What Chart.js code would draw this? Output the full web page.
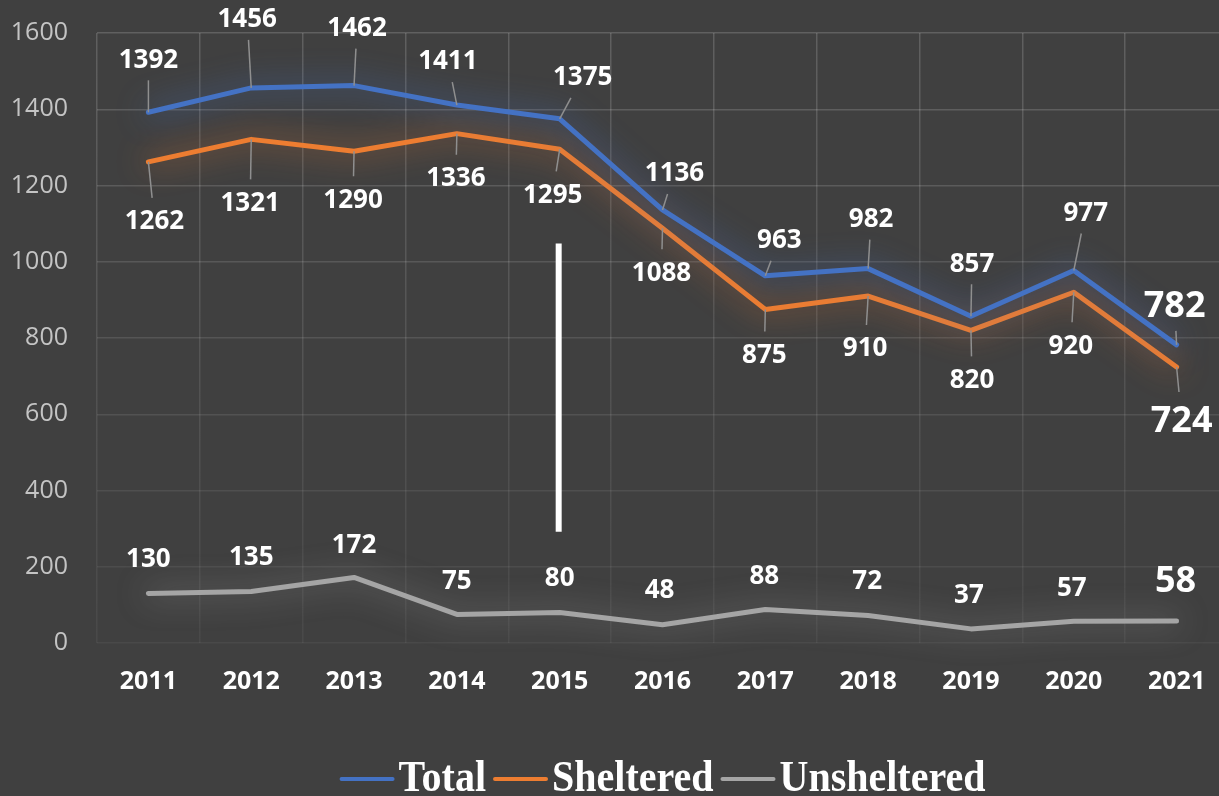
<!DOCTYPE html>
<html>
<head>
<meta charset="utf-8">
<script src="https://cdn.jsdelivr.net/npm/chart.js@4.4.1/dist/chart.umd.min.js"></script>
<style>
  html, body { margin: 0; padding: 0; background: #404040; overflow: hidden; }
  #wrap { width: 1240px; height: 796px; position: relative; }
</style>
</head>
<body>
<div id="wrap"><canvas id="homelessChart"></canvas></div>
<script>
const years = ['2011', '2012', '2013', '2014', '2015', '2016', '2017', '2018', '2019', '2020', '2021'];
const total = [1392, 1456, 1462, 1411, 1375, 1136, 963, 982, 857, 977, 782];
const sheltered = [1262, 1321, 1290, 1336, 1295, 1088, 875, 910, 820, 920, 724];
const unsheltered = [130, 135, 172, 75, 80, 48, 88, 72, 37, 57, 58];
const yTicks = [0, 200, 400, 600, 800, 1000, 1200, 1400, 1600];

// white marker line at 2015
const markerYear = '2015';
const markerFrom = 292;
const markerTo = 1048;

// data label placement, px offset of label centre from its point
const totalLabelOffsets = [[0, -54], [-4, -70], [3, -59], [-9, -45], [23, -43], [12, -38], [14, -37], [3, -51], [1, -54], [12, -59], [-2, -41]];
const shelteredLabelOffsets = [[6, 58], [-1, 62], [-1, 47], [-1, 43], [-7, 44], [-1, 43], [-1, 44], [-3, 51], [1, 48], [-3, 52], [5, 52]];
const unshelteredLabelOffsets = [[0, -36], [0, -36], [0, -34], [0, -35], [0, -36], [-3, -36], [-1, -35], [-1, -36], [-2, -35], [-2, -35], [-1, -42]];

const FONT = '"Open Sans", "Noto Sans", sans-serif';

// soft glow under each line
const glowPlugin = {
    id: 'glow',
    beforeDatasetDraw(chart, args) {
        const ds = chart.data.datasets[args.index];
        chart.ctx.save();
        chart.ctx.shadowColor = ds.glowColor;
        chart.ctx.shadowBlur = 30;
    },
    afterDatasetDraw(chart) {
        chart.ctx.restore();
    }
};

const markerPlugin = {
    id: 'marker',
    beforeDatasetsDraw(chart) {
        const { ctx, scales } = chart;
        const x = scales.x.getPixelForValue(years.indexOf(markerYear));
        ctx.save();
        ctx.strokeStyle = '#ffffff';
        ctx.lineWidth = 6;
        ctx.beginPath();
        ctx.moveTo(x - 1, scales.y.getPixelForValue(markerTo));
        ctx.lineTo(x - 1, scales.y.getPixelForValue(markerFrom));
        ctx.stroke();
        ctx.restore();
    }
};

const labelPlugin = {
    id: 'pointLabels',
    afterDatasetsDraw(chart) {
        const ctx = chart.ctx;
        ctx.save();
        chart.data.datasets.forEach((ds, di) => {
            const meta = chart.getDatasetMeta(di);
            meta.data.forEach((pt, i) => {
                const big = i === ds.data.length - 1;
                const size = big ? 36 : 26;
                ctx.font = 'bold ' + size + 'px ' + FONT;
                const text = String(ds.data[i]);
                const lx = pt.x + ds.labelOffsets[i][0];
                const ly = pt.y + ds.labelOffsets[i][1];
                if (ds.leaders) {
                    const hw = ctx.measureText(text).width / 2 + 3;
                    const hh = big ? 27 : 22;
                    const vx = pt.x - lx, vy = pt.y - ly;
                    const t = Math.min(vx ? hw / Math.abs(vx) : Infinity, vy ? hh / Math.abs(vy) : Infinity);
                    if (t < 1) {
                        ctx.strokeStyle = '#8f8f8f';
                        ctx.lineWidth = 1.5;
                        ctx.beginPath();
                        ctx.moveTo(lx + vx * t, ly + vy * t);
                        ctx.lineTo(pt.x, pt.y);
                        ctx.stroke();
                    }
                }
                ctx.fillStyle = '#ffffff';
                ctx.textAlign = 'center';
                ctx.textBaseline = 'alphabetic';
                ctx.fillText(text, lx, ly + size * 0.36);
            });
        });
        ctx.restore();
    }
};

const legendPlugin = {
    id: 'lineLegend',
    afterDraw(chart) {
        const { ctx, chartArea } = chart;
        const lineLen = 55, gap = 4, itemGap = 7;
        ctx.save();
        ctx.font = 'bold 40px "Liberation Serif", "Times New Roman", serif';
        const items = chart.data.datasets.map(ds => ({ text: ds.label, color: ds.borderColor, w: ctx.measureText(ds.label).width }));
        const width = items.reduce((s, it) => s + lineLen + gap + it.w, 0) + itemGap * (items.length - 1);
        let x = (chartArea.left + chartArea.right) / 2 - width / 2;
        const baseY = 791, lineY = 779;
        items.forEach(it => {
            ctx.strokeStyle = it.color;
            ctx.lineWidth = 4;
            ctx.lineCap = 'round';
            ctx.beginPath();
            ctx.moveTo(x + 2, lineY);
            ctx.lineTo(x + lineLen - 2, lineY);
            ctx.stroke();
            x += lineLen + gap;
            ctx.save();
            ctx.translate(x, baseY);
            ctx.scale(1, 1.1);
            ctx.fillStyle = '#ffffff';
            ctx.textBaseline = 'alphabetic';
            ctx.fillText(it.text, 0, 0);
            ctx.restore();
            x += it.w + itemGap;
        });
        ctx.restore();
    }
};

function gridColor(context) {
    const chart = context.chart;
    const area = chart.chartArea;
    if (!area) return 'rgba(255,255,255,0.12)';
    if (context.scale && context.scale.axis === 'y' && context.tick) {
        const f = context.tick.value / 1600;
        return 'rgba(255,255,255,' + (0.05 + 0.12 * f).toFixed(3) + ')';
    }
    const g = chart.ctx.createLinearGradient(0, area.top, 0, area.bottom);
    g.addColorStop(0, 'rgba(255,255,255,0.17)');
    g.addColorStop(1, 'rgba(255,255,255,0.05)');
    return g;
}

new Chart(document.getElementById('homelessChart'), {
    type: 'line',
    data: {
        labels: years,
        datasets: [
            {
                label: 'Total',
                data: total,
                borderColor: '#4472C4',
                glowColor: 'rgba(68, 114, 196, 0.95)',
                labelOffsets: totalLabelOffsets,
                leaders: true
            },
            {
                label: 'Sheltered',
                data: sheltered,
                borderColor: '#ED7D31',
                glowColor: 'rgba(237, 125, 49, 0.85)',
                labelOffsets: shelteredLabelOffsets,
                leaders: true
            },
            {
                label: 'Unsheltered',
                data: unsheltered,
                borderColor: '#A5A5A5',
                glowColor: 'rgba(200, 200, 200, 0.55)',
                labelOffsets: unshelteredLabelOffsets,
                leaders: false
            }
        ]
    },
    options: {
        responsive: true,
        maintainAspectRatio: false,
        animation: false,
        layout: {
            padding: { top: 33, right: 12, bottom: 93, left: 0 }
        },
        elements: {
            line: {
                borderWidth: 5,
                tension: 0,
                borderCapStyle: 'round',
                borderJoinStyle: 'round'
            },
            point: { radius: 0, hoverRadius: 0 }
        },
        datasets: { line: { clip: false } },
        plugins: {
            legend: { display: false },
            tooltip: { enabled: false }
        },
        scales: {
            x: {
                offset: true,
                afterFit: (scale) => { scale.height = 60; },
                grid: {
                    offset: true,
                    drawTicks: false,
                    color: gridColor,
                    lineWidth: 1.5
                },
                border: { display: false },
                ticks: {
                    color: '#ffffff',
                    padding: 24,
                    font: { family: FONT, size: 25, weight: 'bold' }
                }
            },
            y: {
                min: 0,
                max: 1600,
                afterFit: (scale) => {
                    scale.width = 97;
                    scale.paddingTop = 0;
                    scale.paddingBottom = 0;
                },
                afterBuildTicks: (scale) => { scale.ticks = yTicks.map(v => ({ value: v })); },
                grid: {
                    drawTicks: false,
                    color: gridColor,
                    lineWidth: 1.5
                },
                border: { display: false },
                ticks: {
                    color: '#c4c4c4',
                    padding: 29,
                    font: { family: FONT, size: 25 },
                    callback: (v) => String(v)
                }
            }
        }
    },
    plugins: [glowPlugin, markerPlugin, labelPlugin, legendPlugin]
});
</script>
</body>
</html>
